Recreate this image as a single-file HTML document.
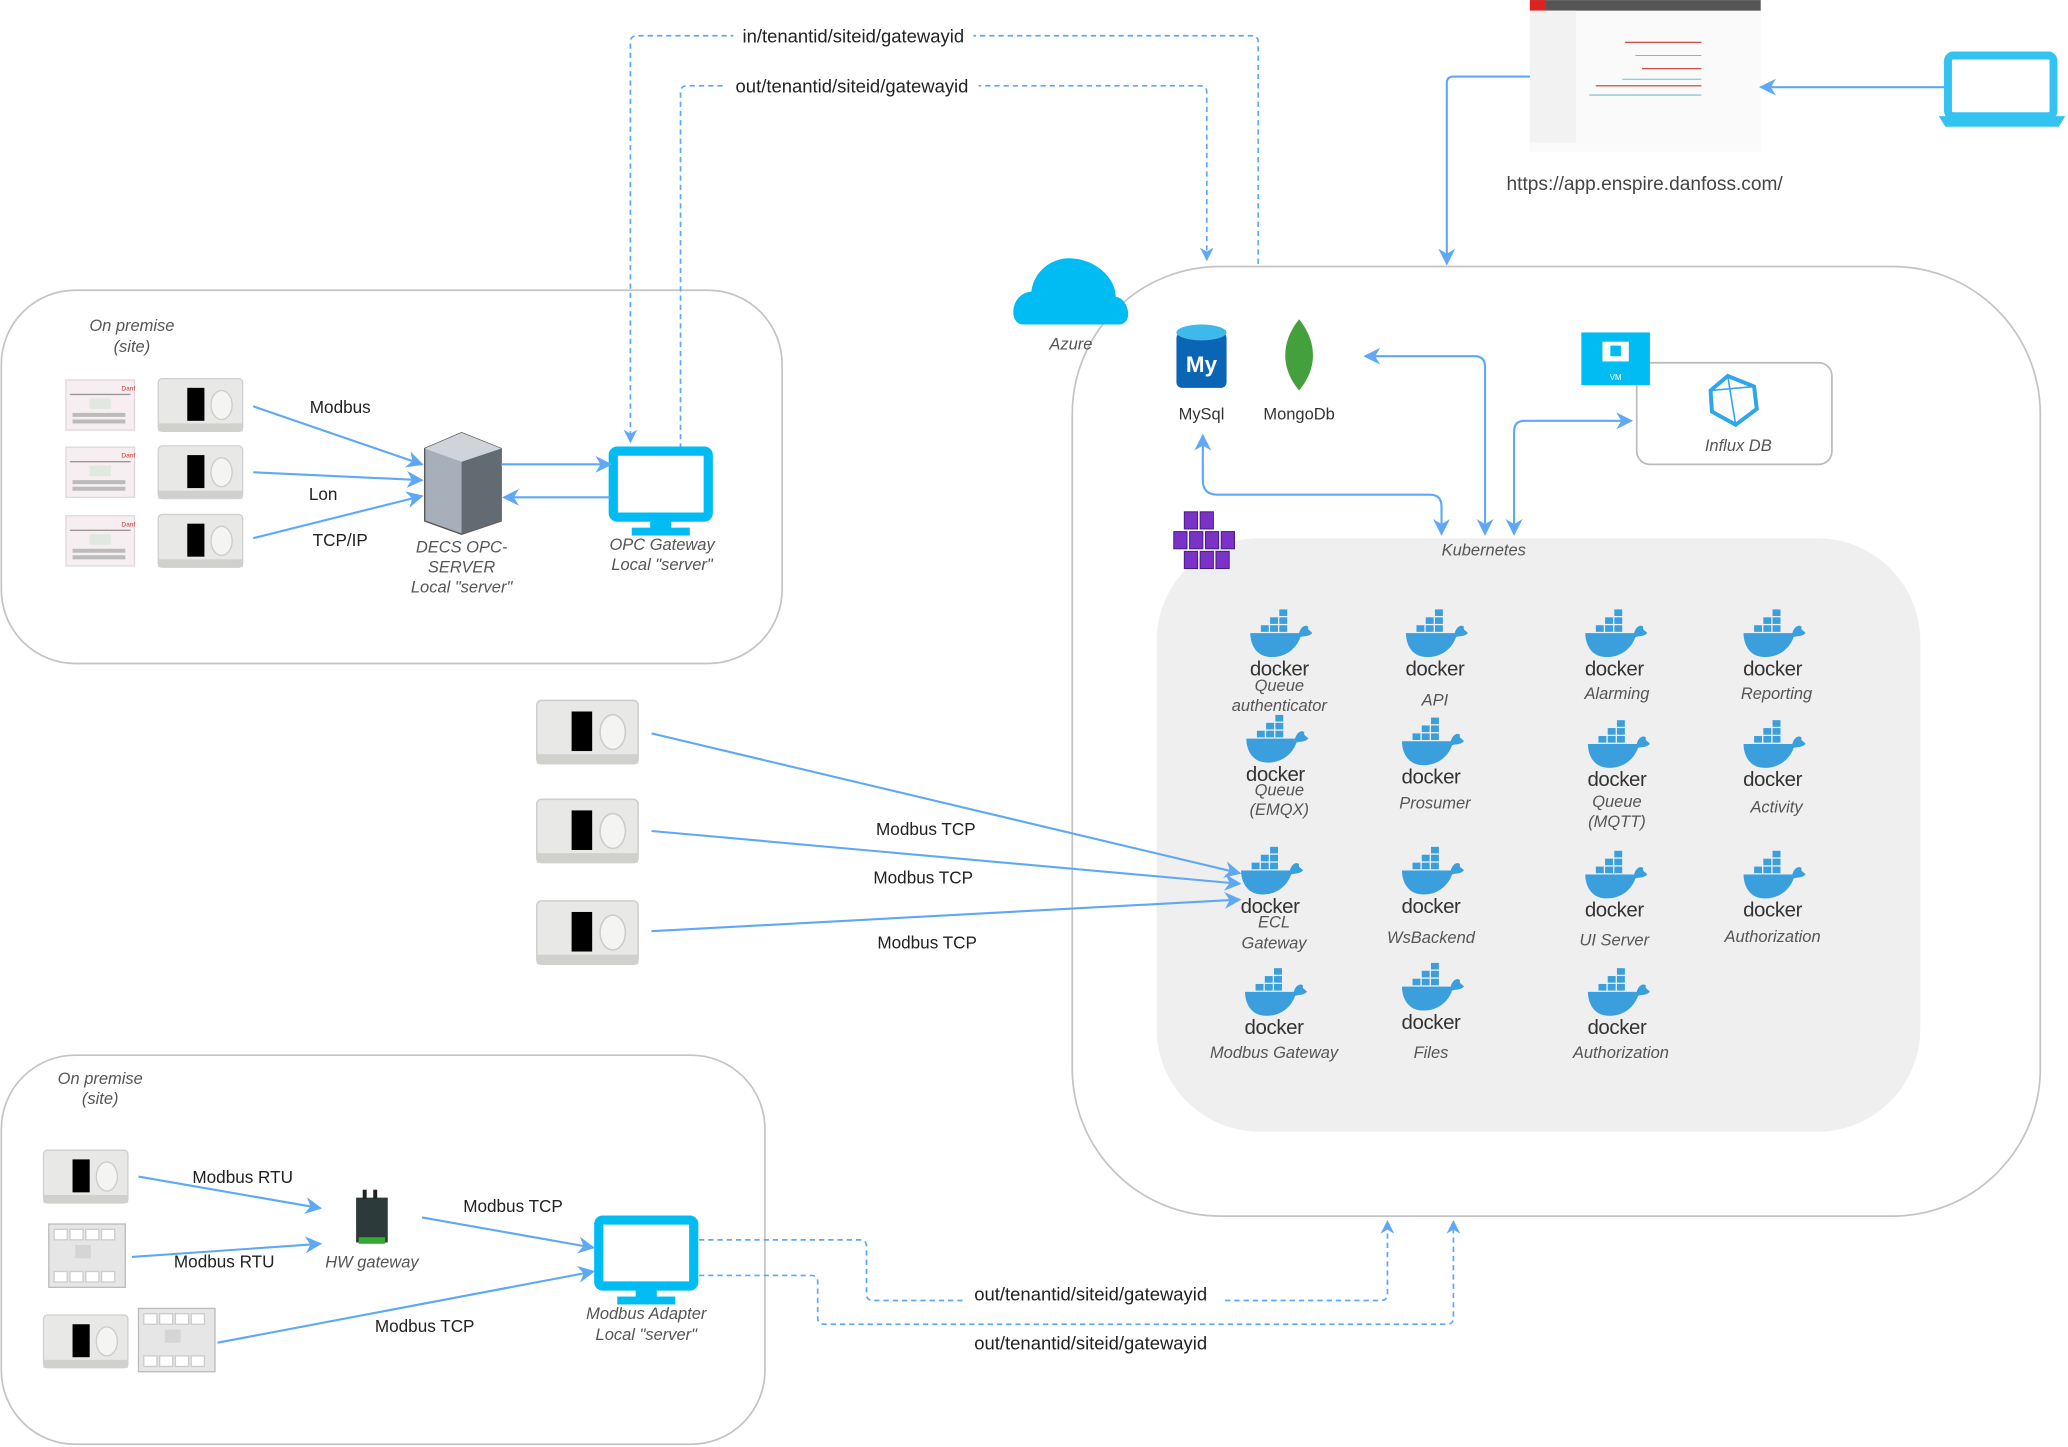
<!DOCTYPE html>
<html><head><meta charset="utf-8"><style>
html,body{margin:0;padding:0;background:#fff;width:2068px;height:1447px;overflow:hidden}
svg{display:block}
text{font-family:"Liberation Sans",sans-serif}
.lb{font-size:13px;fill:#222}
.it{font-size:12.5px;font-style:italic;fill:#555}
.dk{font-size:15.5px;fill:#333;letter-spacing:-0.3px}
.s{stroke:#5fa8f5;stroke-width:1.6;fill:none}
.d{stroke:#5fa8f5;stroke-width:1.3;fill:none;stroke-dasharray:4 3}
</style></head><body>
<svg width="2068" height="1447" viewBox="0 0 1568 1097" xmlns="http://www.w3.org/2000/svg">
<defs>
<marker id="a" viewBox="0 0 10 10" refX="9" refY="5" markerWidth="8" markerHeight="8" orient="auto-start-reverse"><path d="M0,0 L10,5 L0,10 L3,5 z" fill="#5fa8f5"/></marker>
<g id="ctl"><rect x="0" y="0" width="64" height="40" rx="3" fill="#e8e8e6" stroke="#cfcfcf"/><rect x="0" y="34" width="64" height="6" fill="#d0d0cd"/><rect x="22" y="7" width="13" height="25" fill="#000"/><ellipse cx="48" cy="20" rx="8" ry="11" fill="#f4f4f2" stroke="#ccc"/></g>
<g id="pnl"><rect x="0" y="0" width="52" height="38" fill="#f6eef0" stroke="#e3d6da"/><line x1="3" y1="11" x2="49" y2="11" stroke="#999"/><rect x="18" y="14" width="16" height="8" fill="#dfe9df"/><g fill="#bbb"><rect x="5" y="25" width="40" height="3"/><rect x="5" y="30" width="40" height="3"/></g><text x="42" y="8" font-size="5" fill="#c33">Danf</text></g>
<g id="plc"><rect x="0" y="0" width="58" height="48" fill="#e6e6e6" stroke="#bbb"/><g fill="#fff" stroke="#ccc"><rect x="4" y="4" width="10" height="8"/><rect x="16" y="4" width="10" height="8"/><rect x="28" y="4" width="10" height="8"/><rect x="40" y="4" width="10" height="8"/><rect x="4" y="36" width="10" height="8"/><rect x="16" y="36" width="10" height="8"/><rect x="28" y="36" width="10" height="8"/><rect x="40" y="36" width="10" height="8"/></g><rect x="20" y="16" width="12" height="10" fill="#d5d5d5"/></g>
<g id="mon"><rect x="2" y="2" width="72" height="50" rx="3" fill="#fff" stroke="#00bcf2" stroke-width="7"/><rect x="30" y="54" width="16" height="7" fill="#00bcf2"/><rect x="16" y="60" width="44" height="6" fill="#00bcf2"/></g>
<g id="wh"><g fill="#3a9fdc"><rect x="-14" y="-22" width="6" height="5"/><rect x="-7" y="-22" width="6" height="5"/><rect x="0" y="-22" width="6" height="5"/><rect x="-7" y="-28" width="6" height="5"/><rect x="0" y="-28" width="6" height="5"/><rect x="0" y="-34" width="6" height="5"/><path d="M-22,-16 H15 C16,-20 19,-23 22,-21 C21,-18 24,-18 25,-16 C22,-13 18,-14 16,-13 C12,-2 2,3 -8,2 C-18,1 -22,-8 -22,-16 z"/></g><text x="0" y="16" text-anchor="middle" class="dk">docker</text></g>
</defs>

<rect x="1" y="220" width="592" height="283" rx="56" fill="none" stroke="#c4c4c4" stroke-width="1.3"/>
<rect x="1" y="800" width="579" height="295" rx="56" fill="none" stroke="#c4c4c4" stroke-width="1.3"/>
<rect x="813" y="202" width="734" height="720" rx="112" fill="none" stroke="#c4c4c4" stroke-width="1.3"/>
<rect x="877" y="408" width="579" height="450" rx="78" fill="#efefef"/>
<rect x="1241" y="275" width="148" height="77" rx="10" fill="none" stroke="#bbb" stroke-width="1.3"/>

<path d="M776,246 C764,246 766,222 782,221 C784,204 800,194 814,196 C830,197 846,210 846,225 C856,226 860,246 848,246 z" fill="#00bcf2"/>
<text x="812" y="265" text-anchor="middle" class="it">Azure</text>

<path class="d" d="M954,200 V32 Q954,27 949,27 H483 Q478,27 478,32 V335" marker-end="url(#a)"/>
<path class="d" d="M516,340 V70 Q516,65 521,65 H910 Q915,65 915,70 V197" marker-end="url(#a)"/>
<rect x="556" y="18" width="182" height="17" fill="#fff"/>
<text x="647" y="32" text-anchor="middle" style="font-size:14px;fill:#222">in/tenantid/siteid/gatewayid</text>
<rect x="550" y="56" width="192" height="17" fill="#fff"/>
<text x="646" y="70" text-anchor="middle" style="font-size:14px;fill:#222">out/tenantid/siteid/gatewayid</text>

<rect x="1160" y="0" width="175" height="115" fill="#fafafa"/>
<rect x="1160" y="0" width="175" height="8" fill="#555"/><rect x="1160" y="0" width="12" height="8" fill="#d22"/>
<rect x="1160" y="8" width="35" height="100" fill="#f2f2f2"/>
<g stroke="#c33" fill="none" stroke-width="0.8"><path d="M1210,65 H1290 M1232,32 H1290 M1245,52 H1290"/></g>
<g stroke="#7bc" fill="none" stroke-width="0.8"><path d="M1205,72 H1290 M1240,42 H1290 M1230,60 H1290"/></g>
<path class="s" d="M1160,58 H1102 Q1097,58 1097,63 V200" marker-end="url(#a)"/>
<path class="s" d="M1475,66 H1335" marker-end="url(#a)"/>
<rect x="1477" y="42" width="80" height="46" rx="4" fill="#fff" stroke="#33c3f0" stroke-width="6"/>
<path d="M1470,88 H1566 L1561,96 H1475 z" fill="#33c3f0"/>
<text x="1247" y="144" text-anchor="middle" style="font-size:14.5px;fill:#444">https://app.enspire.danfoss.com/</text>

<rect x="892" y="252" width="38" height="42" rx="4" fill="#0a65b5"/>
<ellipse cx="911" cy="252" rx="19" ry="6" fill="#3fb9ea"/>
<text x="911" y="282" text-anchor="middle" style="font-size:17px;font-weight:bold;fill:#fff">My</text>
<text x="911" y="318" text-anchor="middle" style="font-size:12.5px;fill:#333">MySql</text>
<path d="M985,242 C998,258 1000,278 985,296 C970,278 972,258 985,242 z" fill="#43a03c"/>
<text x="985" y="318" text-anchor="middle" style="font-size:12.5px;fill:#333">MongoDb</text>

<rect x="1199" y="252" width="52" height="40" fill="#00bcf2"/>
<rect x="1215" y="259" width="20" height="15" fill="#fff"/><rect x="1221" y="262" width="8" height="8" fill="#00bcf2"/>
<text x="1225" y="288" text-anchor="middle" style="font-size:6px;fill:#fff">VM</text>
<path d="M1310,285 L1330,293 L1332,310 L1316,322 L1298,312 L1297,296 z" fill="none" stroke="#2fa6e9" stroke-width="3"/>
<path d="M1310,285 L1316,322 M1297,296 L1330,293" stroke="#2fa6e9" stroke-width="1.2"/>
<text x="1318" y="342" text-anchor="middle" class="it">Influx DB</text>

<path class="s" d="M912,330 V364 Q912,375 923,375 H1084 Q1093,375 1093,384 V405" marker-start="url(#a)" marker-end="url(#a)"/>
<path class="s" d="M1035,270 H1118 Q1126,270 1126,278 V405" marker-start="url(#a)" marker-end="url(#a)"/>
<path class="s" d="M1237,319 H1156 Q1148,319 1148,327 V405" marker-start="url(#a)" marker-end="url(#a)"/>

<g fill="#7a33c6" stroke="#4b1d8a" stroke-width="0.8">
<rect x="898" y="388" width="10" height="13"/><rect x="910" y="388" width="10" height="13"/>
<rect x="890" y="403" width="10" height="13"/><rect x="902" y="403" width="10" height="13"/><rect x="914" y="403" width="10" height="13"/><rect x="926" y="403" width="10" height="13"/>
<rect x="898" y="418" width="10" height="13"/><rect x="910" y="418" width="10" height="13"/><rect x="922" y="418" width="10" height="13"/></g>
<text x="1125" y="421" text-anchor="middle" class="it">Kubernetes</text>

<use href="#wh" x="970" y="496"/><text x="970" y="524" text-anchor="middle" class="it">Queue</text><text x="970" y="539" text-anchor="middle" class="it">authenticator</text>
<use href="#wh" x="1088" y="496"/><text x="1088" y="535" text-anchor="middle" class="it">API</text>
<use href="#wh" x="1224" y="496"/><text x="1226" y="530" text-anchor="middle" class="it">Alarming</text>
<use href="#wh" x="1344" y="496"/><text x="1347" y="530" text-anchor="middle" class="it">Reporting</text>
<use href="#wh" x="967" y="576"/><text x="970" y="603" text-anchor="middle" class="it">Queue</text><text x="970" y="618" text-anchor="middle" class="it">(EMQX)</text>
<use href="#wh" x="1085" y="578"/><text x="1088" y="613" text-anchor="middle" class="it">Prosumer</text>
<use href="#wh" x="1226" y="580"/><text x="1226" y="612" text-anchor="middle" class="it">Queue</text><text x="1226" y="627" text-anchor="middle" class="it">(MQTT)</text>
<use href="#wh" x="1344" y="580"/><text x="1347" y="616" text-anchor="middle" class="it">Activity</text>
<use href="#wh" x="963" y="676"/><text x="966" y="703" text-anchor="middle" class="it">ECL</text><text x="966" y="719" text-anchor="middle" class="it">Gateway</text>
<use href="#wh" x="1085" y="676"/><text x="1085" y="715" text-anchor="middle" class="it">WsBackend</text>
<use href="#wh" x="1224" y="679"/><text x="1224" y="717" text-anchor="middle" class="it">UI Server</text>
<use href="#wh" x="1344" y="679"/><text x="1344" y="714" text-anchor="middle" class="it">Authorization</text>
<use href="#wh" x="966" y="768"/><text x="966" y="802" text-anchor="middle" class="it">Modbus Gateway</text>
<use href="#wh" x="1085" y="764"/><text x="1085" y="802" text-anchor="middle" class="it">Files</text>
<use href="#wh" x="1226" y="768"/><text x="1229" y="802" text-anchor="middle" class="it">Authorization</text>

<text x="100" y="251" text-anchor="middle" class="it">On premise</text><text x="100" y="267" text-anchor="middle" class="it">(site)</text>
<use href="#pnl" x="50" y="288"/><use href="#pnl" x="50" y="339"/><use href="#pnl" x="50" y="391"/>
<use href="#ctl" x="120" y="287"/><use href="#ctl" x="120" y="338"/><use href="#ctl" x="120" y="390"/>
<path class="s" d="M192,308 L320,352" marker-end="url(#a)"/>
<path class="s" d="M192,358 L320,364" marker-end="url(#a)"/>
<path class="s" d="M192,408 L320,376" marker-end="url(#a)"/>
<text x="258" y="313" text-anchor="middle" class="lb">Modbus</text>
<text x="245" y="379" text-anchor="middle" class="lb">Lon</text>
<text x="258" y="414" text-anchor="middle" class="lb">TCP/IP</text>
<path d="M322,340 L350,328 L380,340 L380,395 L350,405 L322,395 z" fill="#a7afbb" stroke="#555"/>
<path d="M350,350 L380,340 L380,395 L350,405 z" fill="#626a72"/>
<path d="M322,340 L350,328 L380,340 L350,350 z" fill="#cfd3da"/>
<text x="350" y="419" text-anchor="middle" class="it">DECS OPC-</text><text x="350" y="434" text-anchor="middle" class="it">SERVER</text><text x="350" y="449" text-anchor="middle" class="it">Local "server"</text>
<use href="#mon" x="463" y="340"/>
<path class="s" d="M380,352 H463" marker-end="url(#a)"/>
<path class="s" d="M463,377 H382" marker-end="url(#a)"/>
<text x="502" y="417" text-anchor="middle" class="it">OPC Gateway</text><text x="502" y="432" text-anchor="middle" class="it">Local "server"</text>

<use href="#ctl" transform="translate(407,531) scale(1.2)"/>
<use href="#ctl" transform="translate(407,606) scale(1.2)"/>
<use href="#ctl" transform="translate(407,683) scale(1.2)"/>
<path class="s" d="M494,556 L940,662" marker-end="url(#a)"/>
<path class="s" d="M494,630 L940,670" marker-end="url(#a)"/>
<path class="s" d="M494,706 L940,682" marker-end="url(#a)"/>
<text x="702" y="633" text-anchor="middle" class="lb">Modbus TCP</text>
<text x="700" y="670" text-anchor="middle" class="lb">Modbus TCP</text>
<text x="703" y="719" text-anchor="middle" class="lb">Modbus TCP</text>

<text x="76" y="822" text-anchor="middle" class="it">On premise</text><text x="76" y="837" text-anchor="middle" class="it">(site)</text>
<use href="#ctl" x="33" y="872"/>
<use href="#plc" x="37" y="928"/>
<use href="#ctl" x="33" y="997"/>
<use href="#plc" x="105" y="992"/>
<rect x="270" y="908" width="24" height="34" fill="#2d3a3a"/><rect x="272" y="938" width="20" height="5" fill="#3a3"/><rect x="275" y="902" width="3" height="7" fill="#222"/><rect x="283" y="902" width="3" height="7" fill="#222"/>
<text x="282" y="961" text-anchor="middle" class="it">HW gateway</text>
<path class="s" d="M105,892 L243,916" marker-end="url(#a)"/>
<path class="s" d="M100,953 L243,943" marker-end="url(#a)"/>
<path class="s" d="M320,923 L450,946" marker-end="url(#a)"/>
<path class="s" d="M165,1018 L450,964" marker-end="url(#a)"/>
<text x="184" y="897" text-anchor="middle" class="lb">Modbus RTU</text>
<text x="170" y="961" text-anchor="middle" class="lb">Modbus RTU</text>
<text x="389" y="919" text-anchor="middle" class="lb">Modbus TCP</text>
<text x="322" y="1010" text-anchor="middle" class="lb">Modbus TCP</text>
<use href="#mon" x="452" y="923"/>
<text x="490" y="1000" text-anchor="middle" class="it">Modbus Adapter</text><text x="490" y="1016" text-anchor="middle" class="it">Local "server"</text>
<path class="d" d="M530,940 H652 Q657,940 657,945 V981 Q657,986 662,986 H1047 Q1052,986 1052,981 V926" marker-end="url(#a)"/>
<path class="d" d="M530,967 H615 Q620,967 620,972 V999 Q620,1004 625,1004 H1097 Q1102,1004 1102,999 V926" marker-end="url(#a)"/>
<rect x="730" y="972" width="196" height="17" fill="#fff"/>
<text x="827" y="986" text-anchor="middle" style="font-size:14px;fill:#222">out/tenantid/siteid/gatewayid</text>
<text x="827" y="1023" text-anchor="middle" style="font-size:14px;fill:#222">out/tenantid/siteid/gatewayid</text>
</svg>
</body></html>
